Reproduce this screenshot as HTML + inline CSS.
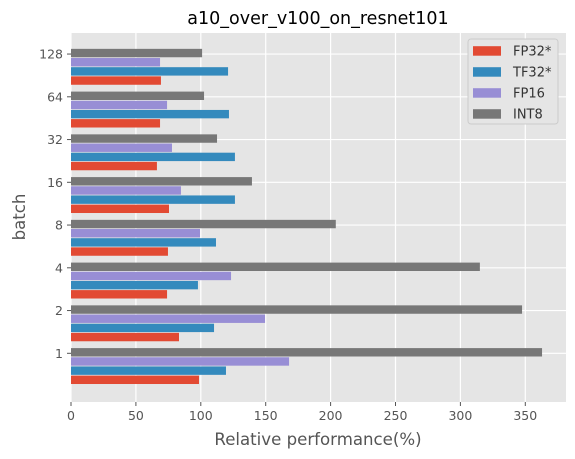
<!DOCTYPE html>
<html><head><meta charset="utf-8"><style>
body{margin:0;background:#fff;}
svg{display:block;font-family:"DejaVu Sans","Liberation Sans",sans-serif;}
</style></head><body>
<svg id="chart" width="575" height="459" viewBox="0 0 575 459" xmlns="http://www.w3.org/2000/svg">
<rect x="71" y="33" width="495" height="369" fill="#e5e5e5"/>
<g id="grid"></g>
<g id="bars"></g>
<g id="ticks"></g>
<text x="318" y="24" font-size="17.5" text-anchor="middle" fill="#000">a10_over_v100_on_resnet101</text>
<text x="318" y="445" font-size="16.6" text-anchor="middle" fill="#555">Relative performance(%)</text>
<text x="0" y="0" font-size="16.6" text-anchor="middle" fill="#555" transform="translate(25,217) rotate(-90)">batch</text>
<g id="legend"></g>
</svg>
<script>
const categories = ["1","2","4","8","16","32","64","128"];
const seriesNames = ["FP32*","TF32*","FP16","INT8"];
const fp32 = [98.6, 83.2, 74, 74.7, 75.5, 66.2, 68.6, 69.3];
const tf32 = [119.4, 110.2, 97.8, 111.7, 126.3, 126.3, 121.7, 121];
const fp16 = [168, 149.5, 123.3, 99.4, 84.7, 77.8, 74, 68.6];
const int8 = [362.9, 347.5, 315, 204, 139.4, 112.5, 102.5, 101];
const xTicks = [0, 50, 100, 150, 200, 250, 300, 350];
const colors = ["#E24A33","#348ABD","#988ED5","#777777"];

const NS = "http://www.w3.org/2000/svg";
const x0 = 71, pxPerUnit = 1.298, xr = 566, yTop = 33, yBot = 402;
const xs = v => x0 + v * pxPerUnit;
const catY = i => 353.3 - i * 42.75;
const pitch = 9.17, bh = 8.4;
function mk(tag, attrs, parent){const e=document.createElementNS(NS,tag);for(const k in attrs)e.setAttribute(k,attrs[k]);parent.appendChild(e);return e;}
const grid = document.getElementById('grid'), bars = document.getElementById('bars'), ticks = document.getElementById('ticks');

xTicks.forEach(t=>{
  const g = mk('line',{x1:xs(t),x2:xs(t),y1:yTop,y2:yBot,stroke:'#fff','stroke-width':1.2},grid);
  
  
  const tk = mk('line',{x1:xs(t),x2:xs(t),y1:yBot,y2:yBot+4,stroke:'#555','stroke-width':1},ticks);
  
  
  const tl = mk('text',{x:xs(t),y:yBot+18,'font-size':12.5,'text-anchor':'middle',fill:'#555'},ticks);
  tl.textContent = t;
  
  
});
categories.forEach((c,i)=>{
  const y = catY(i);
  const g = mk('line',{x1:x0,x2:xr,y1:y,y2:y,stroke:'#fff','stroke-width':1.2},grid);
  
  
  const tk = mk('line',{x1:x0-4,x2:x0,y1:y,y2:y,stroke:'#555','stroke-width':1},ticks);
  
  
  const tl = mk('text',{x:x0-8,y:y+4.5,'font-size':12.5,'text-anchor':'end',fill:'#555'},ticks);
  tl.textContent = c;
  
  
});
const series = [fp32, tf32, fp16, int8];
series.forEach((vals,s)=>{
  vals.forEach((v,i)=>{
    const cy = catY(i) - 1 + (3 - s) * pitch;
    const r = mk('rect',{x:x0,y:cy-bh/2,width:xs(v)-x0,height:bh,fill:colors[s]},bars);
    
    
  });
});
const lg = document.getElementById('legend');
const box = mk('rect',{x:468,y:39,width:90,height:85,rx:3,fill:'#e5e5e5',stroke:'#cccccc','stroke-width':1},lg);


seriesNames.forEach((n,s)=>{
  const cy = 50.7 + s*21;
  const p = mk('rect',{x:473,y:cy-4.5,width:28,height:9.5,fill:colors[s]},lg);
  
  
  const t = mk('text',{x:513,y:cy+5,'font-size':13,fill:'#333'},lg);
  t.textContent = n;
  
  
});
</script>
</body></html>
